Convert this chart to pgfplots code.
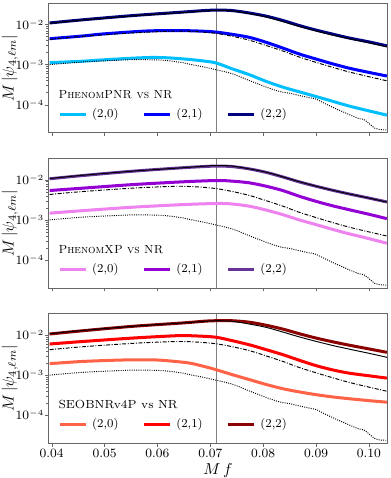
\documentclass[border=0pt]{standalone}
\usepackage{pgfplots}
\usepackage{pgfplotstable}
\pgfplotsset{compat=1.18}

\definecolor{pnrA}{HTML}{00BFFF}
\definecolor{pnrB}{HTML}{0000FF}
\definecolor{pnrC}{HTML}{000080}
\definecolor{xpA}{HTML}{EE82EE}
\definecolor{xpB}{HTML}{9400D3}
\definecolor{xpC}{HTML}{663399}
\definecolor{eobA}{HTML}{FF6347}
\definecolor{eobB}{HTML}{FF0000}
\definecolor{eobC}{HTML}{8B0000}

% NR reference curves, same in every panel
\pgfplotstableread{
f v
0.0396 1.08e-2
0.0459 1.30e-2
0.0553 1.65e-2
0.0647 2.00e-2
0.0690 2.20e-2
0.0711 2.28e-2
0.0740 2.22e-2
0.0774 1.88e-2
0.0806 1.55e-2
0.0837 1.19e-2
0.0868 9.00e-3
0.0900 6.95e-3
0.0931 5.50e-3
0.0962 4.47e-3
0.1000 3.50e-3
0.1034 2.78e-3
}\nrtwotwo
\pgfplotstableread{
f v
0.0396 4.30e-3
0.0459 5.10e-3
0.0553 6.20e-3
0.0620 6.80e-3
0.0647 6.90e-3
0.0680 6.60e-3
0.0711 6.05e-3
0.0742 5.10e-3
0.0774 4.07e-3
0.0806 3.00e-3
0.0837 2.20e-3
0.0868 1.55e-3
0.0900 1.14e-3
0.0931 8.60e-4
0.0962 6.60e-4
0.1000 5.00e-4
0.1034 3.95e-4
}\nrtwoone
\pgfplotstableread{
f v
0.0396 1.00e-3
0.0459 1.17e-3
0.0520 1.28e-3
0.0553 1.33e-3
0.0590 1.32e-3
0.0616 1.27e-3
0.0648 1.12e-3
0.0660 1.03e-3
0.0683 9.00e-4
0.0711 7.45e-4
0.0742 5.90e-4
0.0774 4.00e-4
0.0806 2.75e-4
0.0825 2.25e-4
0.0837 2.05e-4
0.0849 1.95e-4
0.0868 1.70e-4
0.0887 1.50e-4
0.0900 1.38e-4
0.0918 1.05e-4
0.0937 8.00e-5
0.0956 6.20e-5
0.0968 5.30e-5
0.0981 4.50e-5
0.0990 4.30e-5
0.0999 3.50e-5
0.1011 2.60e-5
0.1020 2.40e-5
0.1034 2.35e-5
}\nrtwozero

\pgfplotsset{
  modline/.style={line width=1.9pt, smooth},
  nrline/.style={black, line width=0.6pt, smooth, forget plot},
}
\newcommand{\psilabel}{$M\,|\psi_{4,\ell m}|$}

\begin{document}
\begin{tikzpicture}
\pgfplotsset{
    scale only axis, width=213.5pt, height=81.5pt,
    xmin=0.0394, xmax=0.1035, ymin=2e-5, ymax=3.4e-2,
    xtick={0.04,0.05,0.06,0.07,0.08,0.09,0.10},
    ytick={1e-4,1e-3,1e-2},
    xtick pos=bottom, ytick pos=left, tick align=outside,
    major tick length=2.2pt, minor tick length=1.3pt,
    axis line style={black!60}, tick style={black!60},
    tick label style={font=\fontsize{7.6}{9}\selectfont},
    yticklabel style={inner xsep=0.5pt},
    xticklabel style={inner ysep=1.5pt,/pgf/number format/fixed,/pgf/number format/precision=2,/pgf/number format/fixed zerofill},
    ylabel style={font=\fontsize{10.3}{12}\selectfont, at={(axis description cs:-0.089,0.5)}, anchor=south, inner sep=0pt},
    xlabel style={font=\fontsize{10}{12}\selectfont, at={(axis description cs:0.5,-0.152)}, anchor=north, inner sep=0pt},
    legend columns=3,
    legend image code/.code={\draw[#1] (0pt,0pt) -- (16.7pt,0pt); \path (19.5pt,0pt);},
    legend style={draw=none, fill=none, inner sep=0pt, outer sep=0pt,
      at={(axis description cs:0.0286,0.144)}, anchor=west,
      font=\fontsize{7.6}{9}\selectfont,
      nodes={inner sep=0pt, text width=31.6pt, align=left}},
    legend cell align=left,
}

% ---------------- PhenomPNR
\begin{semilogyaxis}[name=top, xticklabels={}, ylabel={\psilabel}]
\addplot[gray, line width=0.6pt, forget plot] coordinates {(0.0711,2e-5) (0.0711,3.4e-2)};
\addplot[modline, pnrA] coordinates {(0.0396,1.12e-3) (0.0459,1.22e-3) (0.0494,1.31e-3) (0.0553,1.45e-3)
  (0.0589,1.51e-3) (0.0620,1.48e-3) (0.0660,1.35e-3) (0.0690,1.22e-3) (0.0711,1.10e-3)
  (0.0742,7.8e-4) (0.0774,5.6e-4) (0.0806,3.8e-4) (0.0837,2.75e-4) (0.0868,2.1e-4)
  (0.0900,1.6e-4) (0.0931,1.22e-4) (0.0962,9.3e-5) (0.1000,7.0e-5) (0.1034,5.5e-5)};
\addlegendentry{(2,0)}
\addplot[modline, pnrB] coordinates {(0.0396,4.45e-3) (0.0459,5.2e-3) (0.0494,5.8e-3) (0.0553,6.6e-3)
  (0.0589,7.0e-3) (0.0639,7.1e-3) (0.0680,6.9e-3) (0.0711,6.5e-3) (0.0742,5.7e-3)
  (0.0774,4.8e-3) (0.0806,3.6e-3) (0.0837,2.6e-3) (0.0868,1.85e-3) (0.0900,1.38e-3)
  (0.0931,1.05e-3) (0.0962,8.2e-4) (0.1000,6.4e-4) (0.1034,5.2e-4)};
\addlegendentry{(2,1)}
\addplot[modline, pnrC] coordinates {(0.0396,1.1e-2) (0.0459,1.32e-2) (0.0553,1.68e-2) (0.0647,2.05e-2)
  (0.0690,2.25e-2) (0.0711,2.3e-2) (0.0740,2.25e-2) (0.0774,1.95e-2) (0.0806,1.62e-2)
  (0.0837,1.27e-2) (0.0868,9.5e-3) (0.0900,7.3e-3) (0.0931,5.8e-3) (0.0962,4.65e-3)
  (0.1000,3.7e-3) (0.1034,2.95e-3)};
\addlegendentry{(2,2)}
\addplot[nrline] table[x=f,y=v] {\nrtwotwo};
\addplot[nrline, dash pattern=on 2.5pt off 1pt on 0.6pt off 1pt] table[x=f,y=v] {\nrtwoone};
\addplot[nrline, dash pattern=on 0.6pt off 0.8pt] table[x=f,y=v] {\nrtwozero};
\node[anchor=base west, font=\fontsize{7.4}{9}\selectfont, inner sep=0pt] at (axis description cs:0.0286,0.267) {\textsc{PhenomPNR vs NR}};
\end{semilogyaxis}

% ---------------- PhenomXP
\begin{semilogyaxis}[name=mid, at={(0,-97.8pt)}, xticklabels={}, ylabel={\psilabel}]
\addplot[gray, line width=0.6pt, forget plot] coordinates {(0.0711,2e-5) (0.0711,3.4e-2)};
\addplot[modline, xpA] coordinates {(0.0396,1.47e-3) (0.0459,1.7e-3) (0.0553,2.07e-3) (0.0647,2.4e-3)
  (0.0711,2.56e-3) (0.0740,2.5e-3) (0.0774,2.19e-3) (0.0806,1.75e-3) (0.0837,1.35e-3)
  (0.0868,1.0e-3) (0.0900,7.6e-4) (0.0931,5.8e-4) (0.0962,4.5e-4) (0.1000,3.4e-4) (0.1034,2.6e-4)};
\addlegendentry{(2,0)}
\addplot[modline, xpB] coordinates {(0.0396,5.4e-3) (0.0459,6.2e-3) (0.0553,7.6e-3) (0.0647,8.9e-3)
  (0.0711,9.6e-3) (0.0740,9.3e-3) (0.0774,8.4e-3) (0.0806,6.9e-3) (0.0837,5.4e-3)
  (0.0868,3.9e-3) (0.0900,2.9e-3) (0.0931,2.25e-3) (0.0962,1.8e-3) (0.1000,1.38e-3) (0.1034,1.07e-3)};
\addlegendentry{(2,1)}
\addplot[modline, xpC] coordinates {(0.0396,1.06e-2) (0.0459,1.28e-2) (0.0553,1.64e-2) (0.0647,2.0e-2)
  (0.0690,2.15e-2) (0.0711,2.2e-2) (0.0740,2.15e-2) (0.0774,1.87e-2) (0.0806,1.53e-2)
  (0.0837,1.18e-2) (0.0868,8.9e-3) (0.0900,6.9e-3) (0.0931,5.5e-3) (0.0962,4.45e-3)
  (0.1000,3.5e-3) (0.1034,2.8e-3)};
\addlegendentry{(2,2)}
\addplot[nrline] table[x=f,y=v] {\nrtwotwo};
\addplot[nrline, dash pattern=on 2.5pt off 1pt on 0.6pt off 1pt] table[x=f,y=v] {\nrtwoone};
\addplot[nrline, dash pattern=on 0.6pt off 0.8pt] table[x=f,y=v] {\nrtwozero};
\node[anchor=base west, font=\fontsize{7.4}{9}\selectfont, inner sep=0pt] at (axis description cs:0.0286,0.267) {\textsc{PhenomXP vs NR}};
\end{semilogyaxis}

% ---------------- SEOBNRv4P
\begin{semilogyaxis}[name=bot, at={(0,-195.6pt)}, xlabel={$M\,f$}, ylabel={\psilabel}]
\addplot[gray, line width=0.6pt, forget plot] coordinates {(0.0711,2e-5) (0.0711,3.4e-2)};
\addplot[modline, eobA] coordinates {(0.0396,1.93e-3) (0.0459,2.19e-3) (0.0520,2.35e-3) (0.0553,2.4e-3)
  (0.0590,2.4e-3) (0.0616,2.3e-3) (0.0660,2.0e-3) (0.0690,1.62e-3) (0.0711,1.36e-3)
  (0.0742,1.02e-3) (0.0774,7.7e-4) (0.0806,5.8e-4) (0.0837,4.57e-4) (0.0868,3.8e-4)
  (0.0900,3.24e-4) (0.0931,2.85e-4) (0.0962,2.57e-4) (0.1000,2.3e-4) (0.1034,2.1e-4)};
\addlegendentry{(2,0)}
\addplot[modline, eobB] coordinates {(0.0396,5.96e-3) (0.0459,6.9e-3) (0.0553,8.4e-3) (0.0620,9.4e-3)
  (0.0648,9.7e-3) (0.0680,9.4e-3) (0.0711,8.8e-3) (0.0742,7.2e-3) (0.0774,5.7e-3)
  (0.0806,4.3e-3) (0.0837,3.24e-3) (0.0868,2.35e-3) (0.0900,1.72e-3) (0.0931,1.35e-3)
  (0.0962,1.12e-3) (0.1000,9.6e-4) (0.1034,8.4e-4)};
\addlegendentry{(2,1)}
\addplot[modline, eobC] coordinates {(0.0396,1.06e-2) (0.0459,1.28e-2) (0.0553,1.65e-2) (0.0647,2.0e-2)
  (0.0690,2.22e-2) (0.0711,2.28e-2) (0.0740,2.28e-2) (0.0774,2.09e-2) (0.0806,1.75e-2)
  (0.0837,1.41e-2) (0.0868,1.08e-2) (0.0900,8.4e-3) (0.0931,6.8e-3) (0.0962,5.6e-3)
  (0.1000,4.5e-3) (0.1034,3.7e-3)};
\addlegendentry{(2,2)}
\addplot[nrline] table[x=f,y=v] {\nrtwotwo};
\addplot[nrline, dash pattern=on 2.5pt off 1pt on 0.6pt off 1pt] table[x=f,y=v] {\nrtwoone};
\addplot[nrline, dash pattern=on 0.6pt off 0.8pt] table[x=f,y=v] {\nrtwozero};
\node[anchor=base west, font=\fontsize{7.4}{9}\selectfont, inner sep=0pt] at (axis description cs:0.0286,0.267) {SEOBNRv4P vs NR};
\end{semilogyaxis}

\pgfresetboundingbox
\path[use as bounding box] ([xshift=-30.6pt,yshift=2.1pt]top.north west) rectangle ([xshift=1.9pt,yshift=-22pt]bot.south east);
\end{tikzpicture}
\end{document}
